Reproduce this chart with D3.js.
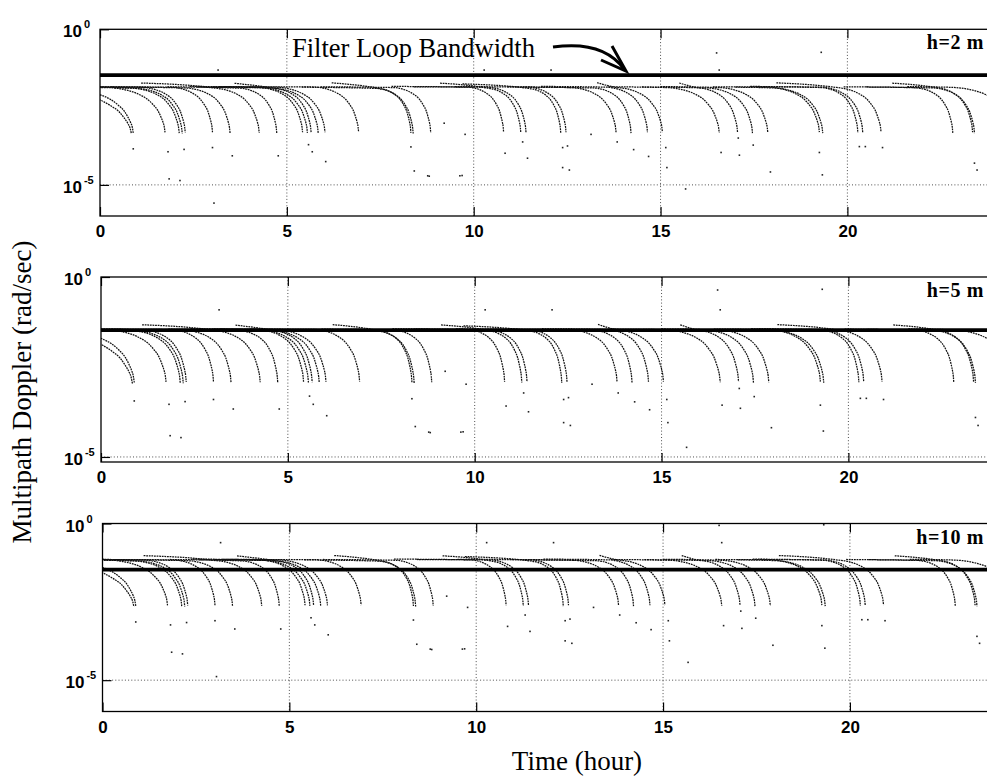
<!DOCTYPE html>
<html>
<head>
<meta charset="utf-8">
<script src="https://cdn.jsdelivr.net/npm/d3@7"></script>
<style>
  body { margin: 0; background: #fff; }
  svg { display: block; }
</style>
</head>
<body>
<svg id="chart" width="987" height="776"></svg>
<script>
// ---- data ---------------------------------------------------------------
// antenna height above the reflector for each panel (m)
const heights = [2, 5, 10];
const panelLabels = ["h=2 m", "h=5 m", "h=10 m"];
const xTicks = [0, 5, 10, 15, 20];
const yTicks = [1, 1e-5];
const yTickExp = ["0", "-5"];
const loopBandwidth = 0.0336;            // rad/s

// satellite passes: multipath Doppler per metre of antenna height (rad/s/m)
const riseHour = [-2.5,-2.0,-1.5,-1.0,-0.8,-0.5,0.0,0.3,1.1,1.8,2.4,2.6,3.6,3.0,3.2,4.0,6.2,5.4,5.9,7.8,
                  9.1,8.4,9.7,9.5,10.9,11.3,11.8,13.3,13.6,15.5,14.5,15.0,16.4,17.0,17.4,17.6,18.1,19.9,21.2,20.5,21.6];
const culmHour = [0.84,0.89,1.74,2.12,2.20,2.28,3.01,3.48,4.26,4.73,5.42,5.55,5.65,5.84,6.02,6.92,8.32,8.38,8.85,10.80,
                  11.26,11.40,12.33,12.47,13.81,14.21,14.65,15.05,16.57,17.06,17.46,17.87,19.25,19.34,20.28,20.41,20.90,22.82,23.35,23.40,24.40];
const dropSpan = [2.7,2.0,1.6,1.3,1.2,1.15,1.1,1.2,1.3,1.0,1.2,1.2,1.1,1.2,1.3,1.2,0.95,1.0,1.0,0.95,
                  0.95,1.0,0.9,1.0,1.2,1.0,1.1,1.3,1.4,1.15,1.2,1.3,1.4,1.3,1.0,1.1,1.3,1.0,1.05,1.1,1.6];
const riseDoppler = [0.0071,0.0070,0.0073,0.0071,0.0069,0.0072,0.0071,0.0070,0.0094,0.0071,0.0073,0.0069,0.0092,0.0071,0.0072,0.0071,0.0095,0.0069,0.0071,0.0073,
                     0.0093,0.0071,0.0088,0.0072,0.0071,0.0069,0.0073,0.0096,0.0071,0.0094,0.0070,0.0072,0.0071,0.0069,0.0073,0.0071,0.0095,0.0071,0.0093,0.0070,0.0072];
const kneeDoppler = [0.0062,0.0066,0.0069,0.0065,0.0063,0.0068,0.0069,0.0065,0.0067,0.0064,0.0069,0.0066,0.0067,0.0064,0.0069,0.0070,0.0066,0.0063,0.0067,0.0069,
                     0.0066,0.0068,0.0064,0.0069,0.0067,0.0065,0.0069,0.0070,0.0067,0.0069,0.0065,0.0067,0.0070,0.0065,0.0067,0.0069,0.0070,0.0066,0.0069,0.0065,0.0068];
// shape of the fall towards culmination: fraction of the drop span still to go,
// and decades below the knee level
const profileLead = [1, 0.7, 0.45, 0.3, 0.2, 0.12, 0.07, 0.035, 0.012, 0];
const profileDrop = [0, 0.07, 0.22, 0.38, 0.56, 0.75, 0.95, 1.12, 1.28, 1.45];

// isolated samples left below (and a few above) the tracks (rad/s/m)
const strayHour = [0.89,1.82,2.25,3.01,3.54,4.77,5.58,5.68,1.85,2.14,6.04,9.21,8.32,8.41,8.81,9.69,9.77,10.84,11.44,11.31,
                   12.38,12.51,12.38,12.56,13.14,13.84,14.28,14.68,15.17,15.14,16.62,17.08,17.11,17.48,17.94,19.25,20.32,20.48,20.94,23.40,
                   23.47,3.05,8.77,9.63,19.33,15.67,3.16,10.28,12.07,16.57,16.50,19.30];
const strayDoppler = [7.2e-5,5.8e-5,6.9e-5,7.9e-5,4.3e-5,4.3e-5,9.8e-5,5.8e-5,7.8e-6,6.9e-6,2.8e-5,4.8e-4,8.3e-5,1.4e-5,9.5e-6,1.0e-5,2.1e-4,5.2e-5,3.6e-5,1.2e-4,
                      7.9e-5,8.9e-5,1.8e-5,1.5e-5,2.1e-4,1.2e-4,6.8e-5,4.1e-5,1.8e-5,7.9e-5,5.5e-5,1.6e-4,4.5e-5,9.5e-5,1.3e-5,5.5e-5,8.5e-5,8.5e-5,7.9e-5,2.5e-5,
                      1.5e-5,1.3e-6,9.8e-6,9.8e-6,1.05e-5,3.7e-6,0.0245,0.0245,0.0245,0.0245,0.087,0.091];

// ---- layout -------------------------------------------------------------
const W = 987;
const pxPerHour = 37.37;
const panels = [
  { left: 100,   top: 29.3,  bottom: 216,   yMin: 1e-6 },
  { left: 101,   top: 277,   bottom: 462,   yMin: Math.pow(10, -5.14) },
  { left: 102.5, top: 523.5, bottom: 711.5, yMin: 1e-6 }
];

const svg = d3.select("#chart");
const tickFont = "'Liberation Sans', Arial, sans-serif";
const serif = "'Liberation Serif', 'Times New Roman', serif";

function passPoints(i) {
  const pts = [[riseHour[i], riseDoppler[i]]];
  profileLead.forEach((f, k) => {
    pts.push([culmHour[i] - f * dropSpan[i], kneeDoppler[i] * Math.pow(10, -profileDrop[k])]);
  });
  return pts;
}

panels.forEach((p, pi) => {
  const h = heights[pi];
  const right = p.left + 24 * pxPerHour;
  const x = d3.scaleLinear().domain([0, 24]).range([p.left, right]);
  const y = d3.scaleLog().domain([p.yMin, 1]).range([p.bottom, p.top]);

  const g = svg.append("g");
  const clipId = "clip" + pi;
  g.append("clipPath").attr("id", clipId)
    .append("rect").attr("x", p.left).attr("y", p.top)
    .attr("width", W - p.left).attr("height", p.bottom - p.top);

  // grid
  const grid = g.append("g").attr("stroke", "#222").attr("stroke-width", 0.8)
    .attr("stroke-dasharray", "1,2.2");
  grid.selectAll("line.v").data(xTicks.filter(t => t > 0)).join("line")
    .attr("x1", d => x(d)).attr("x2", d => x(d))
    .attr("y1", p.top).attr("y2", p.bottom);
  grid.selectAll("line.h").data(yTicks.filter(v => v < 1)).join("line")
    .attr("x1", p.left).attr("x2", right)
    .attr("y1", d => y(d)).attr("y2", d => y(d));

  const plot = g.append("g").attr("clip-path", `url(#${clipId})`);

  // pass tracks
  const line = d3.line()
    .x(d => x(d[0]))
    .y(d => y(d[1] * h))
    .curve(d3.curveMonotoneX);
  plot.append("g")
    .attr("fill", "none").attr("stroke", "#111")
    .attr("stroke-width", 1.25).attr("stroke-dasharray", "1.8,0.8")
    .selectAll("path").data(culmHour.map((_, i) => passPoints(i))).join("path")
    .attr("d", line);

  // isolated samples
  plot.append("g").attr("fill", "#222")
    .selectAll("rect").data(strayHour.map((t, i) => [t, strayDoppler[i] * h])).join("rect")
    .attr("x", d => x(d[0]) - 0.8).attr("y", d => y(d[1]) - 0.8)
    .attr("width", 1.6).attr("height", 1.6);

  // filter loop bandwidth
  plot.append("line")
    .attr("x1", x(0)).attr("x2", x(24))
    .attr("y1", y(loopBandwidth)).attr("y2", y(loopBandwidth))
    .attr("stroke", "#000").attr("stroke-width", 3.8);

  // axes (ticks drawn inward)
  const axB = g.append("g").attr("transform", `translate(0,${p.bottom})`)
    .call(d3.axisBottom(x).tickValues(xTicks).tickSize(-9).tickPadding(9).tickFormat(d3.format("d")));
  const axT = g.append("g").attr("transform", `translate(0,${p.top})`)
    .call(d3.axisTop(x).tickValues(xTicks).tickSize(-9).tickFormat(""));
  const axL = g.append("g").attr("transform", `translate(${p.left},0)`)
    .call(d3.axisLeft(y).tickValues(yTicks).tickSize(-9).tickFormat(""));
  [axB, axT, axL].forEach(a => {
    a.select(".domain").remove();
    a.selectAll(".tick line").attr("stroke", "#000").attr("stroke-width", 1.2);
  });
  axB.selectAll(".tick text")
    .attr("font-family", tickFont).attr("font-weight", "bold")
    .attr("font-size", 17).attr("fill", "#000");

  // frame
  g.append("rect").attr("x", p.left).attr("y", p.top)
    .attr("width", right - p.left).attr("height", p.bottom - p.top)
    .attr("fill", "none").attr("stroke", "#000").attr("stroke-width", 1.3);

  // y tick labels 10^n
  yTicks.forEach((v, k) => {
    const t = g.append("text")
      .attr("x", p.left - 37).attr("y", y(v) + 8)
      .attr("font-family", tickFont).attr("font-weight", "bold")
      .attr("font-size", 17).attr("fill", "#000");
    t.append("tspan").text("10");
    t.append("tspan").attr("dx", 2).attr("dy", -9).attr("font-size", 11).text(yTickExp[k]);
  });

  // panel label
  g.append("text")
    .attr("x", 984).attr("y", p.top + 20)
    .attr("text-anchor", "end")
    .attr("font-family", serif).attr("font-weight", "bold")
    .attr("font-size", 20).attr("letter-spacing", 0.6).attr("fill", "#000")
    .text(panelLabels[pi]);

  if (pi === 0) {
    g.append("text")
      .attr("x", 292).attr("y", 56.5)
      .attr("font-family", serif).attr("font-size", 26.5).attr("fill", "#000")
      .text("Filter Loop Bandwidth");
    g.append("path")
      .attr("d", "M553,47 Q603,40 624,69")
      .attr("fill", "none").attr("stroke", "#000").attr("stroke-width", 3);
    g.append("path")
      .attr("d", "M612,46 L626,71 L601,60")
      .attr("fill", "none").attr("stroke", "#000").attr("stroke-width", 3)
      .attr("stroke-linejoin", "miter");
  }
});

// axis titles
svg.append("text")
  .attr("transform", "translate(31,392) rotate(-90)")
  .attr("text-anchor", "middle")
  .attr("font-family", serif).attr("font-size", 27).attr("fill", "#000")
  .text("Multipath Doppler (rad/sec)");
svg.append("text")
  .attr("x", 577).attr("y", 770)
  .attr("text-anchor", "middle")
  .attr("font-family", serif).attr("font-size", 27).attr("fill", "#000")
  .text("Time (hour)");
</script>
</body>
</html>
